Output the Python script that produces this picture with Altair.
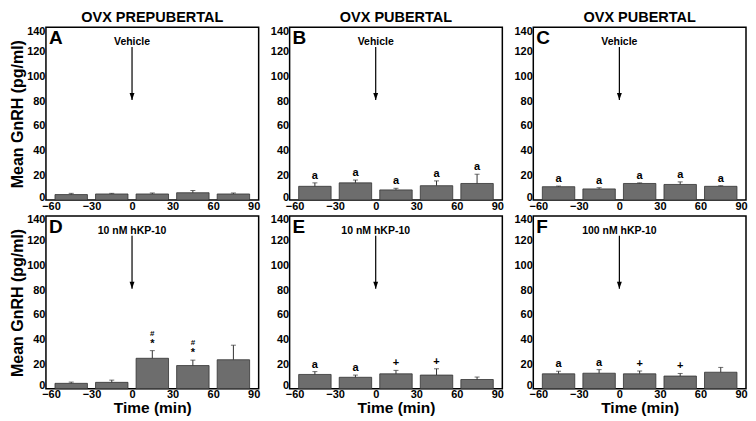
import altair as alt
import pandas as pd

# ---- data ----
bin_centers = [-45, -15, 15, 45, 75]
panel_ids = ["A", "B", "C", "D", "E", "F"]
group_titles = ["OVX PREPUBERTAL", "OVX PUBERTAL", "OVX PUBERTAL"]
treatments = ["Vehicle", "Vehicle", "Vehicle", "10 nM hKP-10", "10 nM hKP-10", "100 nM hKP-10"]

mean_A = [4.4, 4.9, 4.9, 5.9, 4.9]
mean_B = [11.1, 13.9, 8.2, 11.6, 13.4]
mean_C = [10.8, 9.0, 13.4, 12.6, 11.1]
mean_D = [4.4, 5.2, 24.7, 18.8, 23.5]
mean_E = [11.6, 9.3, 12.1, 11.1, 7.5]
mean_F = [12.1, 12.6, 12.1, 10.3, 13.4]

err_A = [5.4, 5.4, 5.7, 7.7, 5.7]
err_B = [13.9, 16.2, 9.5, 15.5, 20.9]
err_C = [11.3, 10.0, 13.9, 14.7, 11.6]
err_D = [5.4, 7.0, 30.9, 23.2, 35.3]
err_E = [13.9, 11.1, 14.9, 16.2, 9.5]
err_F = [14.2, 15.5, 14.4, 12.4, 17.3]

sig_A = ["", "", "", "", ""]
sig_B = ["a", "a", "a", "a", "a"]
sig_C = ["a", "a", "a", "a", "a"]
sig_D = ["", "", "*", "*", ""]
sig_E = ["a", "a", "+", "+", ""]
sig_F = ["a", "a", "+", "+", ""]
sig2_D = ["", "", "#", "#", ""]
no_sig2 = ["", "", "", "", ""]

x_ticks = [-60, -30, 0, 30, 60, 90]
y_ticks = [0, 20, 40, 60, 80, 100, 120, 140]
arrow_from = 124
arrow_to = 81
treat_label_y = 128

means = [mean_A, mean_B, mean_C, mean_D, mean_E, mean_F]
errs = [err_A, err_B, err_C, err_D, err_E, err_F]
sigs = [sig_A, sig_B, sig_C, sig_D, sig_E, sig_F]
sigs2 = [no_sig2, no_sig2, no_sig2, sig2_D, no_sig2, no_sig2]

FONT = "Liberation Sans"
W, H = 213, 173
HALF = 12


def panel(i):
    row, col = divmod(i, 3)
    df = pd.DataFrame({
        "t": bin_centers,
        "mean": means[i],
        "top": errs[i],
        "sig": sigs[i],
        "sig2": sigs2[i],
    })
    ann = pd.DataFrame({
        "t": [0],
        "a0": [arrow_from],
        "a1": [arrow_to],
        "ly": [treat_label_y],
        "treat": [treatments[i]],
        "letter": [panel_ids[i]],
    })
    xscale = alt.Scale(domain=[-60, 90], nice=False, zero=False)
    yscale = alt.Scale(domain=[0, 140], nice=False)
    xaxis = alt.Axis(values=x_ticks, title="Time (min)" if row == 1 else None,
                     labelFlush=False, labelOverlap=False, ticks=False, domain=False,
                     labelPadding=0, titlePadding=1)
    yaxis = alt.Axis(values=y_ticks, title="Mean GnRH (pg/ml)" if col == 0 else None,
                     labelOverlap=False, labelFlush=True, labelFlushOffset=2,
                     ticks=False, domain=False, labelPadding=1, titlePadding=1)

    def X(f):
        return alt.X(f, scale=xscale, axis=xaxis)

    def Y(f):
        return alt.Y(f, scale=yscale, axis=yaxis)

    base = alt.Chart(df)
    bars = base.transform_calculate(
        x0=f"datum.t - {HALF}", x1=f"datum.t + {HALF}"
    ).mark_bar(fill="#6d6d6d", stroke="#333333", strokeWidth=0.8, orient="vertical").encode(
        x=X("x0:Q"), x2="x1:Q", y=Y("mean:Q"), y2=alt.datum(0),
    )
    ebar = base.mark_rule(color="#333333", strokeWidth=1).encode(
        x=X("t:Q"), y=Y("mean:Q"), y2="top:Q")
    cap = base.mark_tick(color="#333333", orient="horizontal", size=5, thickness=1).encode(
        x=X("t:Q"), y=Y("top:Q"))
    lab = base.mark_text(baseline="bottom", dy=-2, font=FONT, fontWeight="bold",
                         fontSize=11, color="black").encode(
        x=X("t:Q"), y=Y("top:Q"), text="sig:N")
    lab2 = base.mark_text(baseline="bottom", dy=-13, font=FONT, fontWeight="bold",
                          fontSize=8, color="black").encode(
        x=X("t:Q"), y=Y("top:Q"), text="sig2:N")

    a = alt.Chart(ann)
    shaft = a.mark_rule(color="black", strokeWidth=1.2).encode(
        x=X("t:Q"), y=Y("a0:Q"), y2="a1:Q")
    head = a.mark_point(shape="M-0.35,-1L0,0L0.35,-1Z", filled=True, color="black",
                        size=196, opacity=1).encode(x=X("t:Q"), y=Y("a1:Q"))
    treat = a.mark_text(font=FONT, fontWeight="bold", fontSize=10.5, color="black",
                        baseline="middle").encode(x=X("t:Q"), y=Y("ly:Q"), text="treat:N")
    letter = a.mark_text(font=FONT, fontWeight="bold", fontSize=19, color="black",
                         align="left", baseline="top").encode(
        x=alt.value(3), y=alt.value(2), text="letter:N")

    props = dict(width=W, height=H)
    if row == 0:
        props["title"] = alt.TitleParams(group_titles[col], fontSize=14.5, font=FONT,
                                         fontWeight="bold", color="black", offset=0,
                                         anchor="middle")
    return alt.layer(bars, ebar, cap, lab, lab2, shaft, head, treat, letter).properties(**props)


chart = alt.concat(*[panel(i) for i in range(6)], columns=3,
                   spacing=alt.RowColnumber(row=16, column=31), bounds="flush").properties(
    padding=0
).configure_view(stroke="black", strokeWidth=1.5).configure_axis(
    grid=False, labelFont=FONT, labelFontWeight="bold", labelFontSize=11,
    labelColor="black", titleFont=FONT, titleFontWeight="bold", titleColor="black",
    titleFontSize=15.5, labelOverlap=False
).configure_axisY(titleFontSize=16)

chart.save("out.html", embed_options={"renderer": "svg", "actions": False})
